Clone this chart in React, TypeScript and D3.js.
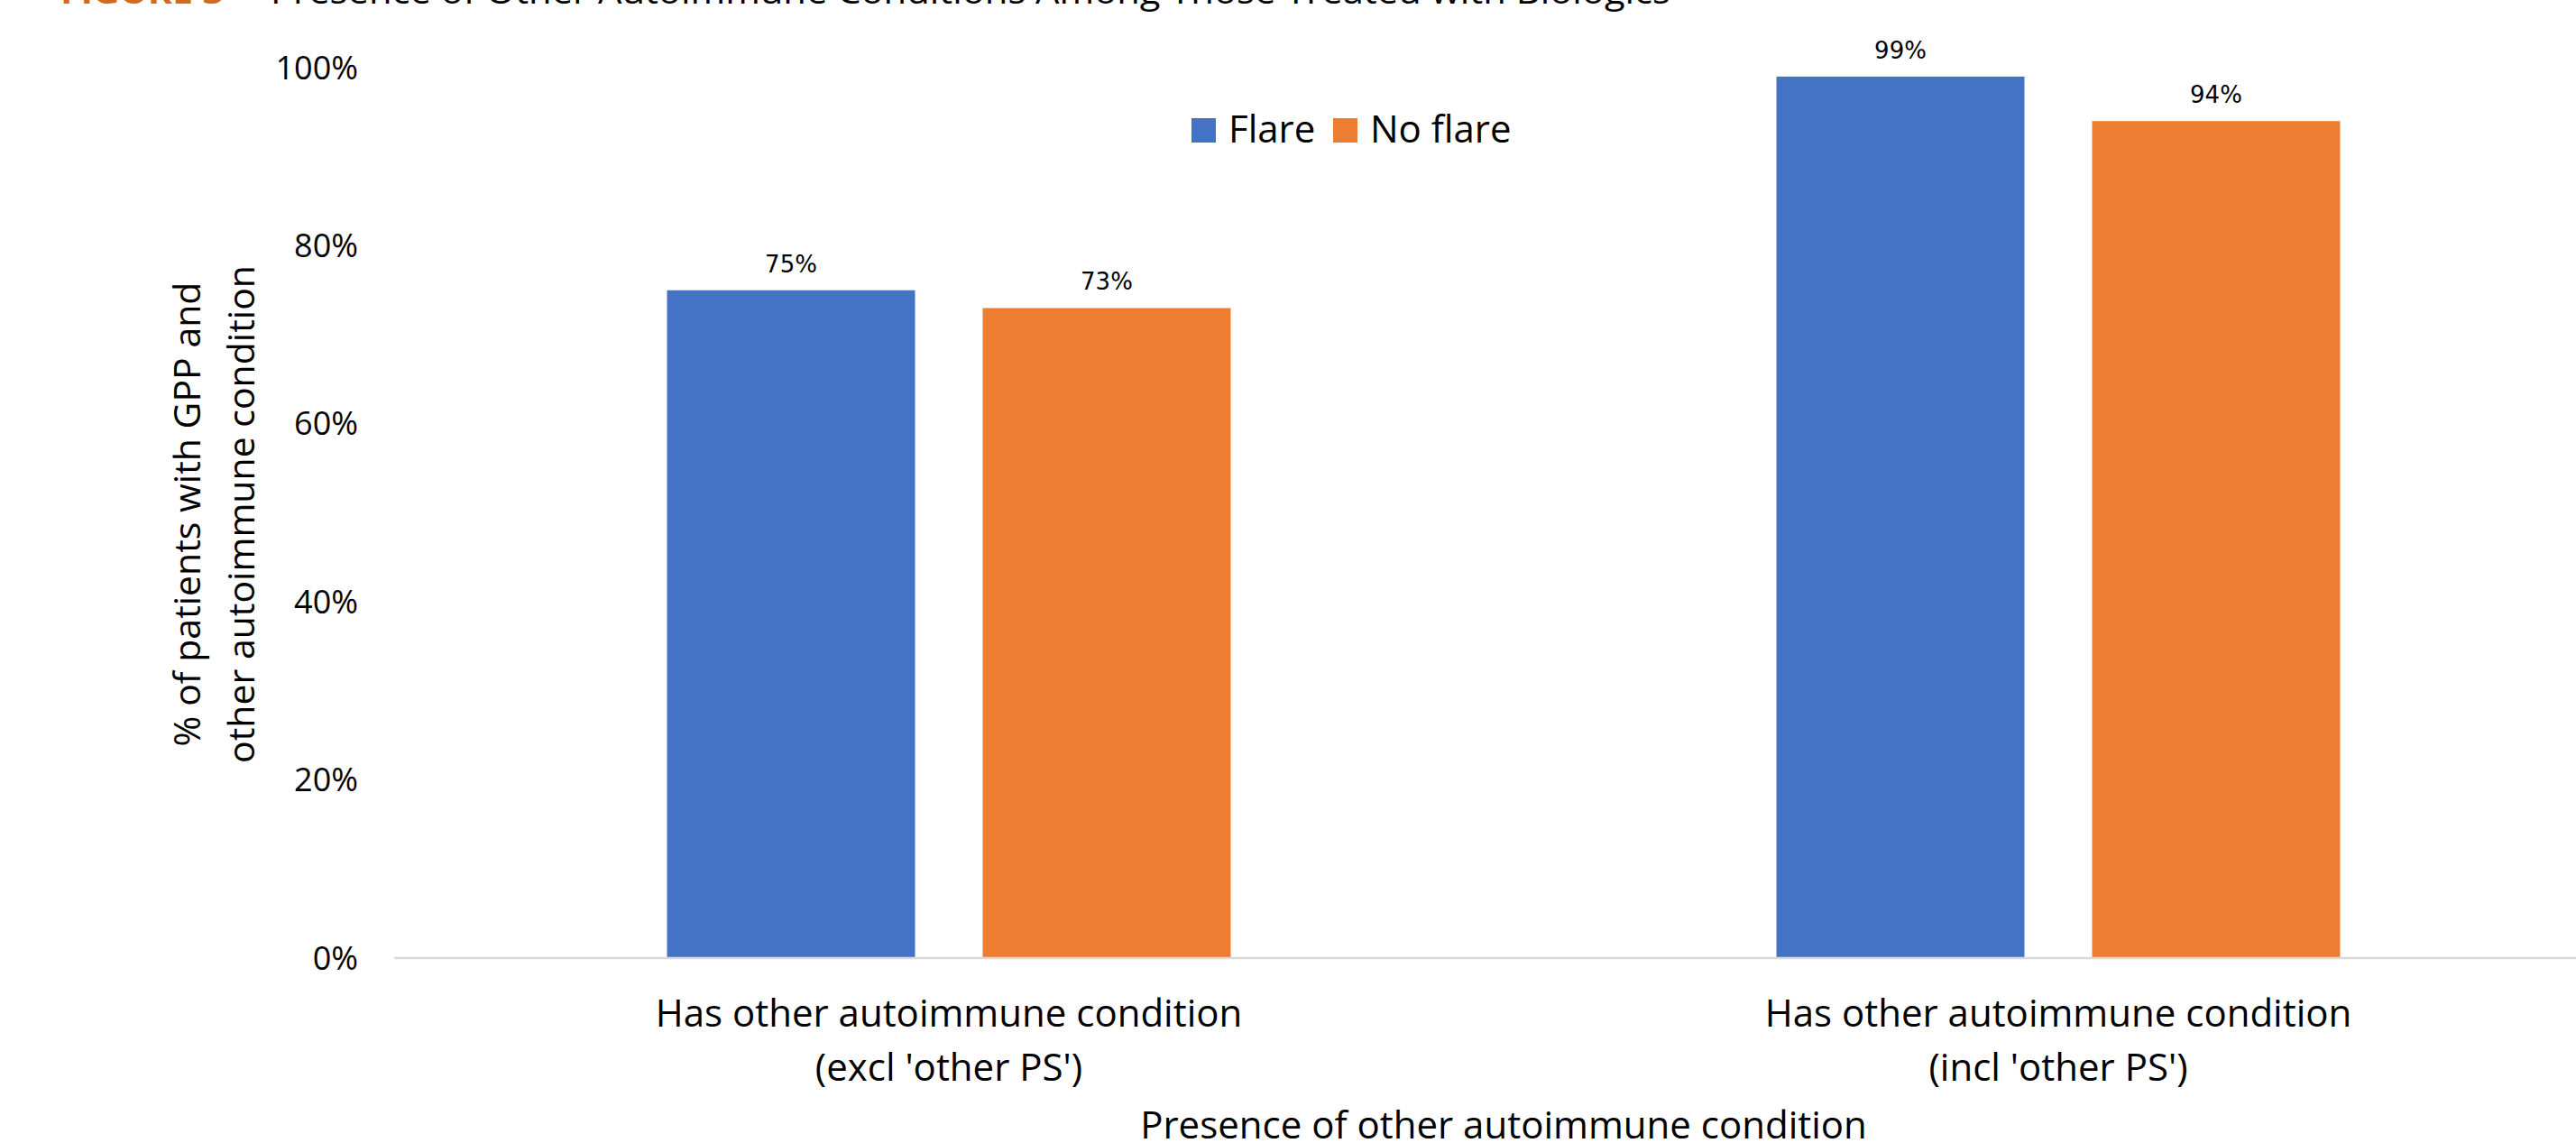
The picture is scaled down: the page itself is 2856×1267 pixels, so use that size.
import React from "react";
import * as d3 from "d3";

const categories = [
  ["Has other autoimmune condition", "(excl 'other PS')"],
  ["Has other autoimmune condition", "(incl 'other PS')"],
];
const seriesNames = ["Flare", "No flare"];
const flareValues = [0.75, 0.99];
const noFlareValues = [0.73, 0.94];
const yTicks = [0, 0.2, 0.4, 0.6, 0.8, 1.0];
const seriesColors = ["#4472C4", "#ED7D31"];

const W = 2856;
const H = 1267;
const FONT = "'Open Sans', 'Noto Sans', sans-serif";

export default function App() {
  const plotLeft = 437;
  const plotRight = 2897;
  const y = d3.scaleLinear().domain([0, 1]).range([1062, 75]);
  const catKeys = categories.map((_, i) => String(i));
  const x0 = d3
    .scaleBand<string>()
    .domain(catKeys)
    .range([plotLeft, plotRight])
    .paddingInner(0.4919)
    .paddingOuter(0.4919 / 2);
  const x1 = d3
    .scaleBand<string>()
    .domain(seriesNames)
    .range([0, x0.bandwidth()])
    .paddingInner(0.2143);
  const seriesValues = [flareValues, noFlareValues];
  const fmt = d3.format(".0%");

  return (
    <svg
      width={W}
      height={H}
      style={{ position: "absolute", left: 0, top: 0, background: "#fff" }}
      fontFamily={FONT}
    >
      <rect x={0} y={0} width={W} height={H} fill="#fff" />
      {/* cut-off figure title */}
      <text x={67} y={4} fontSize={38} fontWeight="bold" fill="#D2691E" textLength={181} lengthAdjust="spacingAndGlyphs">
        FIGURE 3
      </text>
      <text x={300} y={4} fontSize={38} fill="#000" textLength={1552} lengthAdjust="spacingAndGlyphs">
        Presence of Other Autoimmune Conditions Among Those Treated with Biologics
      </text>

      {/* y tick labels */}
      {yTicks.map((t) => (
        <text
          key={t}
          x={397}
          y={y(t)}
          dy="0.35em"
          textAnchor="end"
          fontSize={36}
          fill="#000"
        >
          {fmt(t)}
        </text>
      ))}

      {/* bars */}
      {catKeys.map((k, ci) => (
        <g key={k} transform={`translate(${x0(k)},0)`}>
          {seriesNames.map((s, si) => {
            const v = seriesValues[si][ci];
            const bx = x1(s)!;
            const bw = x1.bandwidth();
            return (
              <g key={s}>
                <rect x={bx} y={y(v)} width={bw} height={y(0) - y(v)} fill={seriesColors[si]} />
                <text
                  x={bx + bw / 2}
                  y={y(v) - 20}
                  textAnchor="middle"
                  fontSize={26}
                  fontFamily="'DejaVu Sans', sans-serif"
                  fill="#000"
                >
                  {fmt(v)}
                </text>
              </g>
            );
          })}
        </g>
      ))}

      {/* baseline */}
      <line x1={plotLeft} x2={W} y1={y(0)} y2={y(0)} stroke="#D9D9D9" strokeWidth={2.5} />

      {/* category labels */}
      {catKeys.map((k, ci) => (
        <text key={k} textAnchor="middle" fontSize={42} fill="#000">
          {categories[ci].map((line, li) => (
            <tspan key={li} x={x0(k)! + x0.bandwidth() / 2} y={1138 + li * 60}>
              {line}
            </tspan>
          ))}
        </text>
      ))}

      {/* x axis title */}
      <text x={1667} y={1262} textAnchor="middle" fontSize={42} fill="#000">
        Presence of other autoimmune condition
      </text>

      {/* y axis title */}
      <text transform="translate(0,570) rotate(-90)" textAnchor="middle" fontSize={41} fill="#000">
        <tspan x={0} y={222}>% of patients with GPP and</tspan>
        <tspan x={0} y={282}>other autoimmune condition</tspan>
      </text>

      {/* legend */}
      <g>
        <rect x={1321} y={131} width={27} height={27} fill={seriesColors[0]} />
        <text x={1362} y={158} fontSize={42} fill="#000">{seriesNames[0]}</text>
        <rect x={1478} y={131} width={27} height={27} fill={seriesColors[1]} />
        <text x={1519} y={158} fontSize={42} fill="#000">{seriesNames[1]}</text>
      </g>
    </svg>
  );
}
